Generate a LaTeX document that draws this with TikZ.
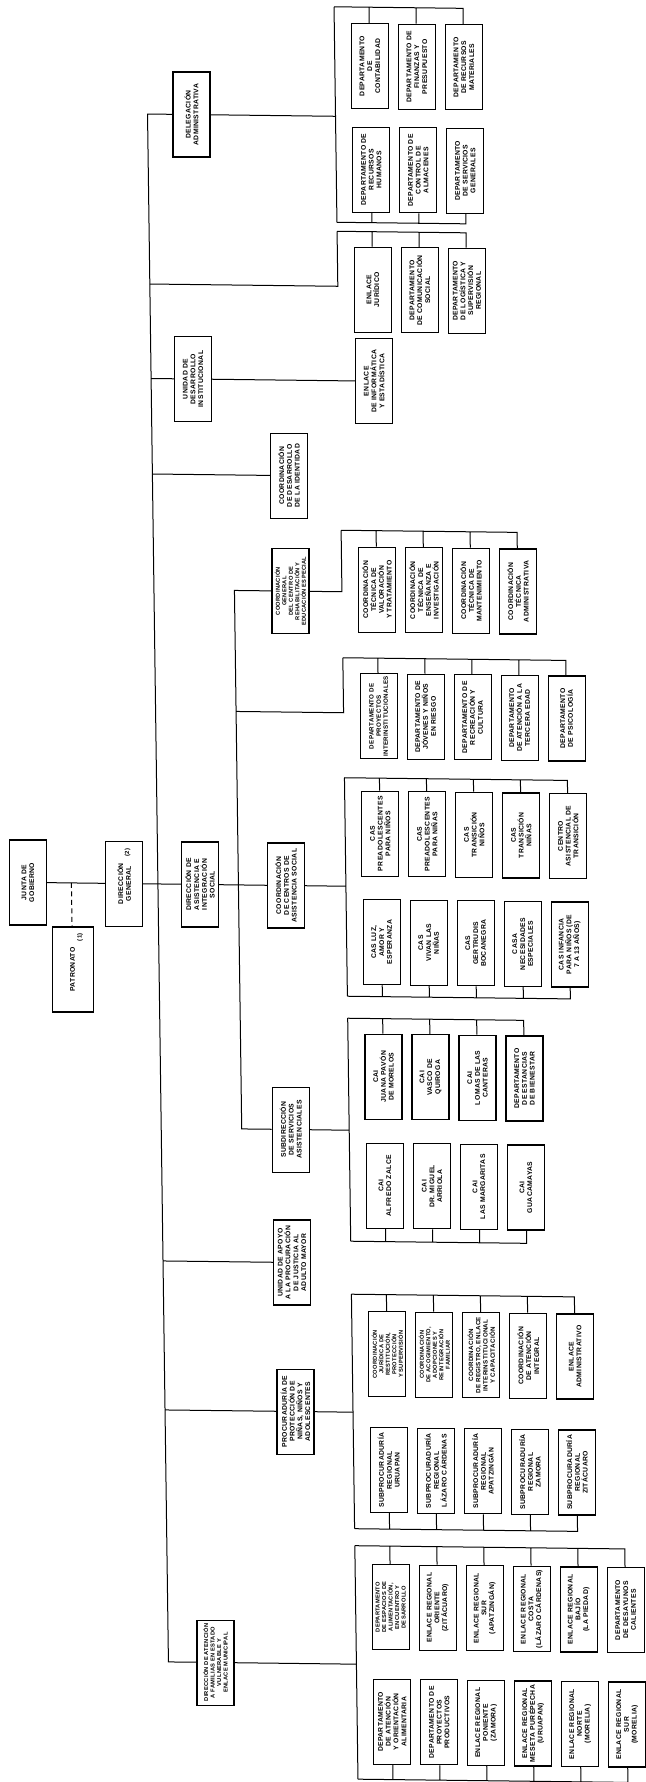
\documentclass[tikz,border=0pt]{standalone}
\usepackage{fontspec}
\usepackage{tikz}
\newfontfamily\chartfont{Liberation Sans}[LetterSpace=5]

\begin{document}
\begin{tikzpicture}[x=1pt,y=-1pt,
  unit/.style={draw,line width=1.2pt,rotate=90,minimum width=85pt,minimum height=37pt,inner sep=1pt,align=center,font=\chartfont\bfseries\fontsize{6.8}{7.8}\selectfont},
  snug/.style={font=\chartfont\bfseries\fontsize{6.2}{7.2}\selectfont},
  dense/.style={font=\chartfont\bfseries\fontsize{5.7}{6.5}\selectfont},
  tag/.style={rotate=90,inner sep=0pt,font=\chartfont\bfseries\fontsize{6}{7}\selectfont},
  link/.style={line width=1pt}]
\useasboundingbox[fill=white] (0,0) rectangle (645,1782);
% the scanned chart is slightly sheared
\begin{scope}[cm={1,-0.012,-0.0135,1,(-12.03pt,3.86pt)}]
% text runs bottom to top: a box's top side is its east anchor
\node[unit] (junta) at (28,886) {JUNTA DE\\GOBIERNO};
\node[unit] (dg) at (124,886) {DIRECCIÓN\\GENERAL};
\node[tag] (dgtag) at (128,855) {(2)};
\node[unit,minimum height=41pt] (patronato) at (71.5,972.5) {PATRONATO};
\node[tag] (pattag) at (79.5,940) {(1)};
\draw[link,dash pattern=on 5pt off 3.5pt] (junta -| patronato) -- (patronato);

\node[unit] (deleg) at (202,116) {DELEGACIÓN\\ADMINISTRATIVA};
\node[unit] (unidad) at (200,380.5) {UNIDAD DE\\DESARROLLO\\INSTITUCIONAL};
\node[unit] (identidad) at (294.5,476) {COORDINACIÓN\\DE DESARROLLO\\DE LA IDENTIDAD};
\node[unit,dense] (cree) at (294.5,591.5) {COORDINACIÓN\\GENERAL\\DEL CENTRO DE\\REHABILITACIÓN Y\\EDUCACIÓN ESPECIAL};
\node[unit] (dirasist) at (200,886) {DIRECCIÓN DE\\ASISTENCIA E\\INTEGRACIÓN\\SOCIAL};
\node[unit] (centros) at (286,886) {COORDINACIÓN\\DE CENTROS DE\\ASISTENCIA SOCIAL};
\node[unit] (subdir) at (287.5,1130) {SUBDIRECCIÓN\\DE SERVICIOS\\ASISTENCIALES};
\node[unit] (apoyo) at (287,1263) {UNIDAD DE APOYO\\A LA PROCURACIÓN\\DE JUSTICIA AL\\ADULTO MAYOR};
\node[unit] (procu) at (288.5,1412) {PROCURADURÍA DE\\PROTECCIÓN DE\\NIÑAS, NIÑOS Y\\ADOLESCENTES};
\node[unit,dense] (familia) at (205,1664) {DIRECCIÓN DE ATENCIÓN\\A FAMILIAS EN ESTADO\\VULNERABLE Y\\ENLACE MUNICIPAL};

% main bus and the direccion de asistencia bus
\coordinate (busT) at (158,116);
\coordinate (busB) at (158,1664);
\coordinate (subB) at (238.5,1130);
\draw[link] (junta) -- (dg) -- (dirasist) -- (centros);
\draw[link] (deleg) -- (busT) -- (busB) -- (familia);
\draw[link] (unidad -| busT) -- (unidad);
\draw[link] (identidad -| busT) -- (identidad);
\draw[link] (apoyo -| busT) -- (apoyo);
\draw[link] (procu -| busT) -- (procu);
\draw[link] (cree) -| (subB) -- (subdir);

% delegacion administrativa
\node[unit] (dcont) at (381,65.5) {DEPARTAMENTO\\DE\\CONTABILIDAD};
\node[unit] (dfin) at (428,65.5) {DEPARTAMENTO DE\\FINANZAS Y\\PRESUPUESTO};
\node[unit] (dmat) at (475,65.5) {DEPARTAMENTO\\DE RECURSOS\\MATERIALES};
\node[unit] (drh) at (381,169) {DEPARTAMENTO DE\\RECURSOS\\HUMANOS};
\node[unit] (dalm) at (428,169) {DEPARTAMENTO DE\\CONTROL DE\\ALMACENES};
\node[unit] (dserv) at (475,169) {DEPARTAMENTO\\DE SERVICIOS\\GENERALES};
\coordinate (delT) at (346,6.5);
\coordinate (delB) at (346,222);
\draw[link] (deleg) -- (deleg -| delT);
\draw[link] (delT) -- (delB);
\draw[link] (delT) -| (dcont) (delT) -| (dfin) (delT) -| (dmat);
\draw[link] (delB) -| (drh) (delB) -| (dalm) (delB) -| (dserv);

\node[unit] (ejur) at (381,289) {ENLACE\\JURÍDICO};
\node[unit] (dcom) at (428,289) {DEPARTAMENTO\\DE COMUNICACIÓN\\SOCIAL};
\node[unit] (dlog) at (475,289) {DEPARTAMENTO\\DE LOGÍSTICA Y\\SUPERVISIÓN\\REGIONAL};
\coordinate (jurT) at (346,231);
\coordinate (jurJ) at (346,286);
\draw[link] (jurJ -| busT) -- (jurJ) -- (jurT);
\draw[link] (jurT) -| (ejur) (jurT) -| (dcom) (jurT) -| (dlog);

\node[unit] (einf) at (381,380.5) {ENLACE\\DE INFORMÁTICA\\Y ESTADÍSTICA};
\draw[link] (unidad) -- (einf);

% centro de rehabilitacion
\node[unit] (ct1) at (381,589) {COORDINACIÓN\\TÉCNICA DE\\VALORACIÓN\\Y TRATAMIENTO};
\node[unit] (ct2) at (428,589) {COORDINACIÓN\\TÉCNICA DE\\ENSEÑANZA E\\INVESTIGACIÓN};
\node[unit] (ct3) at (475,589) {COORDINACIÓN\\TÉCNICA DE\\MANTENIMIENTO};
\node[unit] (ct4) at (522,589) {COORDINACIÓN\\TÉCNICA\\ADMINISTRATIVA};
\coordinate (creeT) at (346,530);
\draw[link] (cree) -| (creeT);
\draw[link] (creeT) -| (ct1) (creeT) -| (ct2) (creeT) -| (ct3) (creeT) -| (ct4);

\node[unit,snug] (dp1) at (381,715.5) {DEPARTAMENTO DE\\PROYECTOS\\INTERINSTITUCIONALES};
\node[unit] (dp2) at (428,715.5) {DEPARTAMENTO DE\\JÓVENES Y NIÑOS\\EN RIESGO};
\node[unit] (dp3) at (475,715.5) {DEPARTAMENTO DE\\RECREACIÓN Y\\CULTURA};
\node[unit] (dp4) at (522,715.5) {DEPARTAMENTO\\DE ATENCIÓN A LA\\TERCERA EDAD};
\node[unit] (dp5) at (569,715.5) {DEPARTAMENTO\\DE PSICOLOGÍA};
\coordinate (depT) at (346,657.5);
\coordinate (depJ) at (346,712.5);
\draw[link] (depJ -| subB) -- (depJ) -- (depT);
\draw[link] (depT) -| (dp1) (depT) -| (dp2) (depT) -| (dp3) (depT) -| (dp4) (depT) -| (dp5);

% centros de asistencia social
\node[unit] (cs1) at (381,833) {CAS\\PREADOLESCENTES\\PARA NIÑOS};
\node[unit] (cs2) at (428,833) {CAS\\PREADOLESCENTES\\PARA NIÑAS};
\node[unit] (cs3) at (475,833) {CAS\\TRANSICIÓN\\NIÑOS};
\node[unit] (cs4) at (522,833) {CAS\\TRANSICIÓN\\NIÑAS};
\node[unit] (cs5) at (569,833) {CENTRO\\ASISTENCIAL DE\\TRANSICIÓN};
\node[unit] (cb1) at (381,941.5) {CAS LUZ,\\AMOR Y\\ESPERANZA};
\node[unit] (cb2) at (428,941.5) {CAS\\VIVAN LAS\\NIÑAS};
\node[unit] (cb3) at (475,941.5) {CAS\\GERTRUDIS\\BOCANEGRA};
\node[unit] (cb4) at (522,941.5) {CASA\\NECESIDADES\\ESPECIALES};
\node[unit] (cb5) at (569,941.5) {CAS INFANCIA\\PARA NIÑOS (DE\\7 A 13 AÑOS)};
\coordinate (casT) at (346,777.5);
\coordinate (casB) at (346,996);
\draw[link] (centros) -- (centros -| casT);
\draw[link] (casT) -- (casB);
\draw[link] (casT) -| (cs1) (casT) -| (cs2) (casT) -| (cs3) (casT) -| (cs4) (casT) -| (cs5);
\draw[link] (casB) -| (cb1) (casB) -| (cb2) (casB) -| (cb3) (casB) -| (cb4) (casB) -| (cb5);

% servicios asistenciales
\node[unit] (ai1) at (381,1076) {CAI\\JUANA PAVÓN\\DE MORELOS};
\node[unit] (ai2) at (428,1076) {CAI\\VASCO DE\\QUIROGA};
\node[unit] (ai3) at (475,1076) {CAI\\LOMAS DE LAS\\CANTERAS};
\node[unit] (ai4) at (522,1076) {DEPARTAMENTO\\DE ESTANCIAS\\DE BIENESTAR};
\node[unit] (ab1) at (381,1185) {CAI\\ALFREDO ZALCE};
\node[unit] (ab2) at (428,1185) {CAI\\DR. MIGUEL\\ARRIOLA};
\node[unit] (ab3) at (475,1185) {CAI\\LAS MARGARITAS};
\node[unit] (ab4) at (522,1185) {CAI\\GUACAMAYAS};
\coordinate (caiT) at (346,1018);
\coordinate (caiB) at (346,1241);
\draw[link] (subdir) -- (subdir -| caiT);
\draw[link] (caiT) -- (caiB);
\draw[link] (caiT) -| (ai1) (caiT) -| (ai2) (caiT) -| (ai3) (caiT) -| (ai4);
\draw[link] (caiB) -| (ab1) (caiB) -| (ab2) (caiB) -| (ab3) (caiB) -| (ab4);

% procuraduria
\node[unit,dense] (pr1) at (381,1353.5) {COORDINACIÓN\\JURÍDICA DE\\RESTITUCIÓN,\\PROTECCIÓN\\Y SUPERVISIÓN};
\node[unit,dense] (pr2) at (428,1353.5) {COORDINACIÓN\\DE ACOGIMIENTO,\\ADOPCIONES Y\\REINTEGRACIÓN\\FAMILIAR};
\node[unit,snug] (pr3) at (475,1353.5) {COORDINACIÓN\\DE REGISTRO, ENLACE\\INTERINSTITUCIONAL\\Y CAPACITACIÓN};
\node[unit] (pr4) at (522,1353.5) {COORDINACIÓN\\DE ATENCIÓN\\INTEGRAL};
\node[unit] (pr5) at (569,1353.5) {ENLACE\\ADMINISTRATIVO};
\node[unit] (ps1) at (381,1469.5) {SUBPROCURADURÍA\\REGIONAL\\URUAPAN};
\node[unit] (ps2) at (428,1469.5) {SUBPROCURADURÍA\\REGIONAL\\LÁZARO CÁRDENAS};
\node[unit] (ps3) at (475,1469.5) {SUBPROCURADURÍA\\REGIONAL\\APATZINGÁN};
\node[unit] (ps4) at (522,1469.5) {SUBPROCURADURÍA\\REGIONAL\\ZAMORA};
\node[unit] (ps5) at (569,1469.5) {SUBPROCURADURÍA\\REGIONAL\\ZITÁCUARO};
\coordinate (prT) at (346,1294);
\coordinate (prB) at (346,1528.5);
\draw[link] (procu) -- (procu -| prT);
\draw[link] (prT) -- (prB);
\draw[link] (prT) -| (pr1) (prT) -| (pr2) (prT) -| (pr3) (prT) -| (pr4) (prT) -| (pr5);
\draw[link] (prB) -| (ps1) (prB) -| (ps2) (prB) -| (ps3) (prB) -| (ps4) (prB) -| (ps5);

% atencion a familias
\node[unit,dense] (ft1) at (381,1606.5) {DEPARTAMENTO\\DE ESPACIOS DE\\ALIMENTACIÓN,\\ENCUENTRO Y\\DESARROLLO};
\node[unit] (ft2) at (428,1606.5) {ENLACE REGIONAL\\ORIENTE\\(ZITÁCUARO)};
\node[unit] (ft3) at (475,1606.5) {ENLACE REGIONAL\\SUR\\(APATZINGÁN)};
\node[unit] (ft4) at (522,1606.5) {ENLACE REGIONAL\\COSTA\\(LÁZARO CÁRDENAS)};
\node[unit] (ft5) at (569,1606.5) {ENLACE REGIONAL\\BAJÍO\\(LA PIEDAD)};
\node[unit] (ft6) at (616,1606.5) {DEPARTAMENTO\\DE DESAYUNOS\\CALIENTES};
\node[unit] (fb1) at (381,1721) {DEPARTAMENTO\\DE ATENCIÓN\\Y ORIENTACIÓN\\ALIMENTARIA};
\node[unit] (fb2) at (428,1721) {DEPARTAMENTO DE\\PROYECTOS\\PRODUCTIVOS};
\node[unit] (fb3) at (475,1721) {ENLACE REGIONAL\\PONIENTE\\(ZAMORA)};
\node[unit] (fb4) at (522,1721) {ENLACE REGIONAL\\MESETA PURÉPECHA\\(URUAPAN)};
\node[unit] (fb5) at (569,1721) {ENLACE REGIONAL\\NORTE\\(MORELIA)};
\node[unit] (fb6) at (616,1721) {ENLACE REGIONAL\\SUR\\(MORELIA)};
\coordinate (faT) at (346,1545.5);
\coordinate (faB) at (346,1779);
\draw[link] (familia) -- (familia -| faT);
\draw[link] (faT) -- (faB);
\draw[link] (faT) -| (ft1) (faT) -| (ft2) (faT) -| (ft3) (faT) -| (ft4) (faT) -| (ft5) (faT) -| (ft6);
\draw[link] (faB) -| (fb1) (faB) -| (fb2) (faB) -| (fb3) (faB) -| (fb4) (faB) -| (fb5) (faB) -| (fb6);
\end{scope}
\end{tikzpicture}
\end{document}
